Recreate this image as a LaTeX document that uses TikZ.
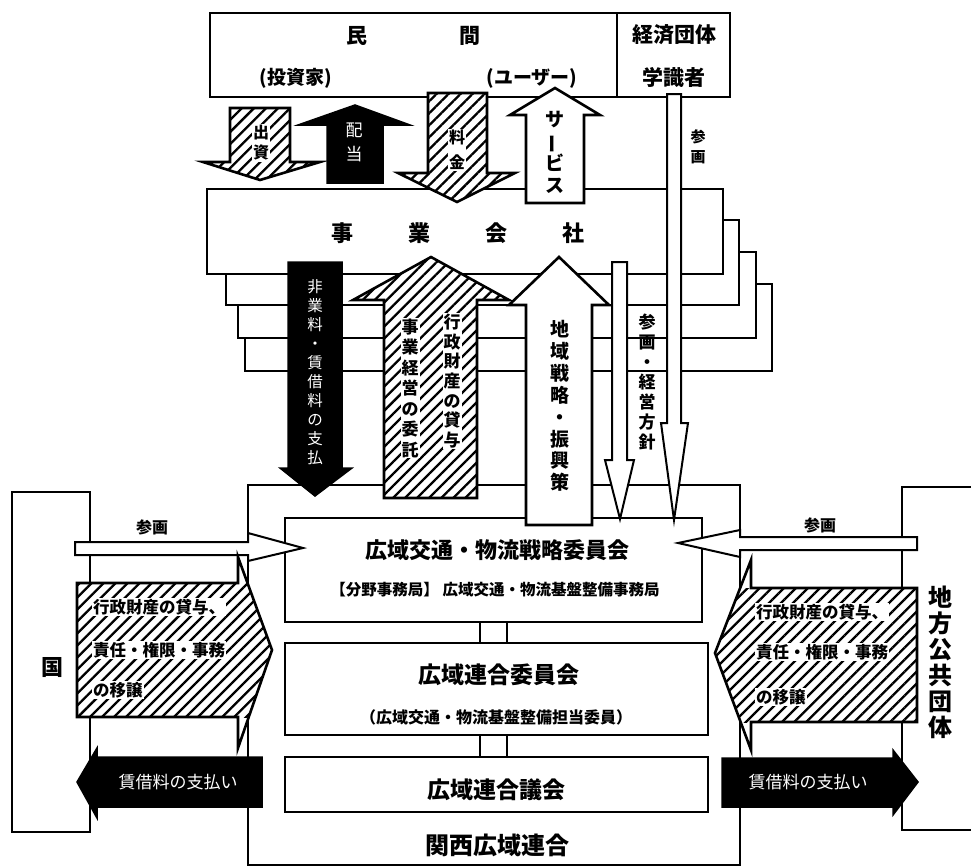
\documentclass[tikz,border=0pt]{standalone}
\usepackage{fontspec}
\setmainfont{Noto Sans CJK JP}
\usetikzlibrary{patterns.meta}
\begin{document}
\begin{tikzpicture}[x=1pt,y=-1pt,line join=miter,
  ol/.style={draw=black,line width=2.6pt},
  box/.style={ol,fill=white},
  thinbox/.style={draw=black,line width=2pt,fill=white},
  blk/.style={draw=black,line width=1.5pt,fill=black},
  hatchp/.style={pattern={Lines[angle=45,distance=8.5pt,line width=2.3pt]}},
  hatched/.style={ol,preaction={fill=white},hatchp},
  lab/.style={font=\bfseries\fontsize{#1}{#1}\selectfont,inner sep=0pt},
  vlab/.style 2 args={font=\bfseries\fontsize{#1}{#2}\selectfont,align=center,inner sep=0pt},
  wlab/.style={font=\mdseries\fontsize{#1}{#1}\selectfont,inner sep=0pt,text=white},
  wvlab/.style 2 args={font=\mdseries\fontsize{#1}{#2}\selectfont,align=center,inner sep=0pt,text=white},
  halo/.style={fill=white,inner sep=1pt},
]
\useasboundingbox[fill=white] (0,0) rectangle (971,867);

% ---------- top boxes
\draw[box] (210,13) rectangle (617,97);
\draw[box] (617,13) rectangle (730,97);
\node[lab=21] (min) at (357,36) {民};
\node[lab=21] (kan) at (470,36) {間};
\node[lab=19] (inv) at (296,78) {(投資家)};
\node[lab=19] (usr) at (532,78) {(ユーザー)};
\node[lab=21] (keizai) at (674,35) {経済団体};
\node[lab=21] (gakushiki) at (674,77) {学識者};

% ---------- 出資
\draw[hatched] (230,108) -- (290,108) -- (290,162) -- (320,162) -- (260,180) -- (203,162) -- (230,162) -- cycle;
\node[vlab={16}{20},halo] (shusshi) at (261,143) {出\\資};

% ---------- 配当
\draw[blk] (327,183) -- (383,183) -- (383,125) -- (410,125) -- (355,105) -- (298,125) -- (327,125) -- cycle;
\node[wvlab={17}{24}] (haito) at (354,142) {配\\当};

% ---------- 事業会社 stack
\draw[box] (245,284) rectangle (772,371);
\draw[box] (238,252) rectangle (756,338);
\draw[box] (226,220) rectangle (739,305);
\draw[box] (207,189) rectangle (723,274);
\node[lab=22] (jigyo) at (458,233) {事\hspace{55pt}業\hspace{55pt}会\hspace{55pt}社};

% ---------- 料金
\draw[hatched] (428,93) -- (487,93) -- (487,173) -- (515,173) -- (457,202) -- (398,173) -- (428,173) -- cycle;
\node[vlab={16}{25},halo] (ryokin) at (457,150) {料\\金};

% ---------- サービス
\draw[box] (526,203) -- (584,203) -- (584,115) -- (600,115) -- (555,88) -- (510,115) -- (526,115) -- cycle;
\node[vlab={19}{22}] (service) at (555,152) {サ\\\rotatebox[origin=c]{90}{ー}\\ビ\\ス};

% ---------- 関西広域連合
\draw[box] (248,485) rectangle (740,865);
\draw[ol] (480,622) -- (480,643) (507,622) -- (507,643) (480,735) -- (480,757) (507,735) -- (507,757);
\draw[box] (285,518) rectangle (702,622);
\draw[box] (285,643) rectangle (708,735);
\draw[box] (285,757) rectangle (708,812);
\node[lab=22] (senryakuiin) at (497,550) {広域交通・物流戦略委員会};
\node[lab=15.5] (jimukyoku) at (495,590) {【分野事務局】 広域交通・物流基盤整備事務局};
\node[lab=23] (rengoiin) at (499,675) {広域連合委員会};
\node[lab=16] (tanto) at (496,717) {（広域交通・物流基盤整備担当委員）};
\node[lab=23] (gikai) at (496,790) {広域連合議会};
\node[lab=24] (kansai) at (497,845) {関西広域連合};

% ---------- 国 / 地方公共団体
\draw[box] (12,492) rectangle (90,832);
\node[lab=22] (kuni) at (52,668) {国};
\draw[box] (985,487) -- (902,487) -- (902,830) -- (985,830);
\node[vlab={24}{26}] (chiho) at (940,662) {地\\方\\公\\共\\団\\体};

% ---------- black down arrow
\draw[blk] (288,262) -- (342,262) -- (342,468) -- (352,468) -- (315,496) -- (280,468) -- (288,468) -- cycle;
\node[wvlab={15.5}{19}] (shiyo) at (315,372) {非\\業\\料\\・\\賃\\借\\料\\の\\支\\払};

% ---------- hatched up arrow
\draw[hatched] (384,498) -- (477,498) -- (477,300) -- (509,300) -- (431,257) -- (353,300) -- (384,300) -- cycle;
\node[vlab={17}{19.7},halo] (taiyo) at (452,381) {行\\政\\財\\産\\の\\貸\\与};
\node[vlab={17}{20.5},halo] (itaku) at (410,388) {事\\業\\経\\営\\の\\委\\託};

% ---------- white up arrow
\draw[box] (526,525) -- (592,525) -- (592,305) -- (609,305) -- (559,257) -- (509,305) -- (526,305) -- cycle;
\node[vlab={19}{21.9}] (senryaku) at (560,406) {地\\域\\戦\\略\\・\\振\\興\\策};

% ---------- short arrow
\draw[thinbox] (612,262) -- (627,262) -- (627,460) -- (634,460) -- (620,519) -- (605,460) -- (612,460) -- cycle;
\node[vlab={17}{20}] (keiei) at (647,382) {参\\画\\・\\経\\営\\方\\針};

% ---------- long arrow
\draw[thinbox] (667,94) -- (681,94) -- (681,423) -- (688,423) -- (674,520) -- (661,423) -- (667,423) -- cycle;
\node[vlab={15}{20}] (sankaku1) at (698,147) {参\\画};

% ---------- left side arrows
\draw[thinbox] (75,542) -- (248,542) -- (248,533) -- (303,548) -- (248,561) -- (248,555) -- (75,555) -- cycle;
\node[lab=16] (sankakuL) at (152,527) {参画};

\fill[white] (77,583) -- (238,583) -- (238,557) -- (272,650) -- (238,748) -- (238,717) -- (77,717) -- cycle;
\begin{scope}
  \clip (0,583) rectangle (971,717);
  \path[hatchp] (77,583) -- (238,583) -- (238,557) -- (272,650) -- (238,748) -- (238,717) -- (77,717) -- cycle;
\end{scope}
\draw[ol] (77,583) -- (238,583) -- (238,557) -- (272,650) -- (238,748) -- (238,717) -- (77,717) -- cycle;
\node[lab=16.5,halo,anchor=west] (L1) at (92,607) {行政財産の貸与、};
\node[lab=16.5,halo,anchor=west] (L2) at (92,650) {責任・権限・事務};
\node[lab=16.5,halo,anchor=west] (L3) at (92,690) {の移譲};

\draw[blk] (262,757) -- (97,757) -- (97,748) -- (77,782) -- (97,818) -- (97,807) -- (262,807) -- cycle;
\node[wlab=17] (chinL) at (178,782) {賃借料の支払い};

% ---------- right side arrows
\draw[thinbox] (917,537) -- (740,537) -- (740,530) -- (678,543) -- (740,557) -- (740,550) -- (917,550) -- cycle;
\node[lab=16] (sankakuR) at (820,525) {参画};

\fill[white] (917,588) -- (751,588) -- (751,560) -- (715,653) -- (751,750) -- (751,722) -- (917,722) -- cycle;
\begin{scope}
  \clip (0,588) rectangle (971,722);
  \path[hatchp] (917,588) -- (751,588) -- (751,560) -- (715,653) -- (751,750) -- (751,722) -- (917,722) -- cycle;
\end{scope}
\draw[ol] (917,588) -- (751,588) -- (751,560) -- (715,653) -- (751,750) -- (751,722) -- (917,722) -- cycle;
\node[lab=16.5,halo,anchor=west] (R1) at (755,612) {行政財産の貸与、};
\node[lab=16.5,halo,anchor=west] (R2) at (755,652) {責任・権限・事務};
\node[lab=16.5,halo,anchor=west] (R3) at (755,697) {の移譲};

\draw[blk] (722,758) -- (893,758) -- (893,750) -- (918,782) -- (893,815) -- (893,807) -- (722,807) -- cycle;
\node[wlab=17] (chinR) at (808,782) {賃借料の支払い};
\end{tikzpicture}
\end{document}
